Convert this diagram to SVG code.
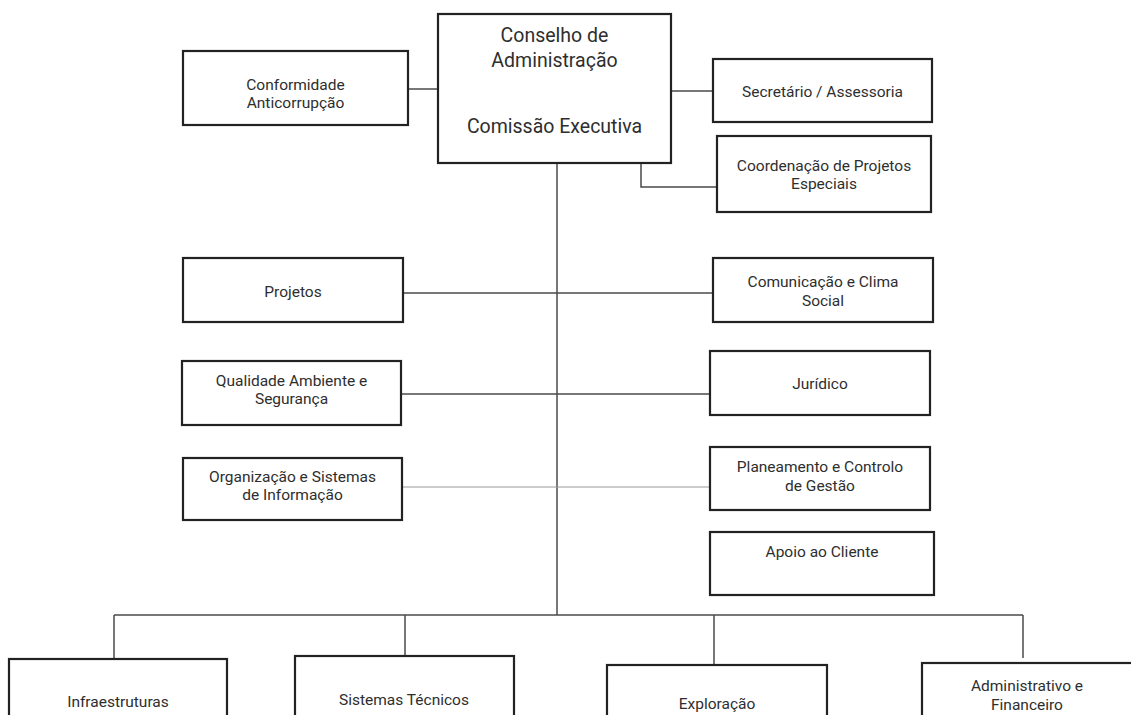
<svg xmlns="http://www.w3.org/2000/svg" width="1131" height="715" viewBox="0 0 1131 715">
<style>
.box{fill:#fff;stroke:#222;stroke-width:2.2}
.ln{stroke:#4a4a4a;stroke-width:1.5;fill:none}
.lt{stroke:#9a9a9a;stroke-width:1.2;fill:none}
text{font-family:Roboto,"Liberation Sans",sans-serif;fill:#2e2e2e;text-anchor:middle;font-size:15.5px}
.big{font-size:19.5px}
</style>
<rect width="1131" height="715" fill="#fff"/>
<g id="connectors">
<line class="ln" x1="408" y1="89" x2="438" y2="89"/>
<line class="ln" x1="671" y1="91" x2="713" y2="91"/>
<polyline class="ln" points="641,163 641,187 717,187"/>
<line class="ln" x1="557" y1="163" x2="557" y2="615"/>
<line class="ln" x1="403" y1="293" x2="713" y2="293"/>
<line class="ln" x1="401" y1="394" x2="710" y2="394"/>
<line class="lt" x1="402" y1="487" x2="710" y2="487"/>
<line class="ln" x1="114" y1="615" x2="1023" y2="615"/>
<line class="ln" x1="114" y1="615" x2="114" y2="659"/>
<line class="ln" x1="405" y1="615" x2="405" y2="656"/>
<line class="ln" x1="714" y1="615" x2="714" y2="665"/>
<line class="ln" x1="1023" y1="615" x2="1023" y2="658"/>
</g>
<g id="n-conselho"><rect class="box" x="438" y="14" width="233" height="149"/>
<text class="big" x="554.5" y="42">Conselho de</text><text class="big" x="554.5" y="67">Administração</text><text class="big" x="554.5" y="133">Comissão Executiva</text></g>
<g id="n-conformidade"><rect class="box" x="183" y="51" width="225" height="74"/>
<text x="295.5" y="90">Conformidade</text><text x="295.5" y="108">Anticorrupção</text></g>
<g id="n-secretario"><rect class="box" x="713" y="59" width="219" height="63"/>
<text x="822.5" y="97">Secretário / Assessoria</text></g>
<g id="n-coordenacao"><rect class="box" x="717" y="136" width="214" height="76"/>
<text x="824" y="171">Coordenação de Projetos</text><text x="824" y="189">Especiais</text></g>
<g id="n-projetos"><rect class="box" x="183" y="258" width="220" height="64"/>
<text x="293" y="297">Projetos</text></g>
<g id="n-comunicacao"><rect class="box" x="713" y="258" width="220" height="64"/>
<text x="823" y="287">Comunicação e Clima</text><text x="823" y="306">Social</text></g>
<g id="n-qualidade"><rect class="box" x="182" y="361" width="219" height="64"/>
<text x="291.5" y="386">Qualidade Ambiente e</text><text x="291.5" y="404">Segurança</text></g>
<g id="n-juridico"><rect class="box" x="710" y="351" width="220" height="64"/>
<text x="820" y="389">Jurídico</text></g>
<g id="n-organizacao"><rect class="box" x="183" y="458" width="219" height="62"/>
<text x="292.5" y="482">Organização e Sistemas</text><text x="292.5" y="500">de Informação</text></g>
<g id="n-planeamento"><rect class="box" x="710" y="447" width="220" height="63"/>
<text x="820" y="472">Planeamento e Controlo</text><text x="820" y="491">de Gestão</text></g>
<g id="n-apoio"><rect class="box" x="710" y="532" width="224" height="63"/>
<text x="822" y="557">Apoio ao Cliente</text></g>
<g id="n-infra"><rect class="box" x="9" y="659" width="218" height="70"/>
<text x="118" y="707">Infraestruturas</text></g>
<g id="n-sistemas"><rect class="box" x="295" y="656" width="219" height="70"/>
<text x="404" y="705">Sistemas Técnicos</text></g>
<g id="n-exploracao"><rect class="box" x="607" y="665" width="220" height="70"/>
<text x="717" y="709">Exploração</text></g>
<g id="n-admin"><rect class="box" x="922" y="663" width="230" height="70"/>
<text x="1027" y="691">Administrativo e</text><text x="1027" y="710">Financeiro</text></g>
</svg>
